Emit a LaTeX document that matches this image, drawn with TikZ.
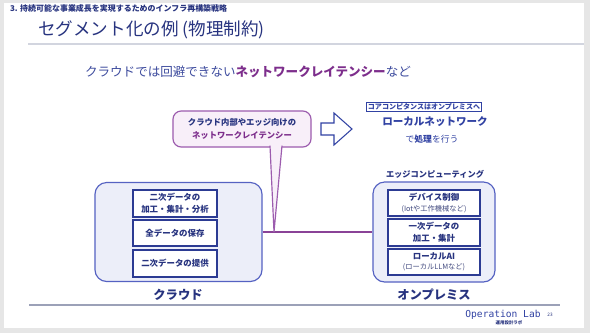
\documentclass[tikz,border=0pt]{standalone}
\usepackage{fontspec}
\setmainfont{Noto Sans CJK JP}
\newfontfamily\labmono{DejaVu Sans Mono}
\usetikzlibrary{positioning,calc}
\definecolor{SlideGray}{HTML}{E6E6E6}
\definecolor{LabNavy}{HTML}{27337F}
\definecolor{LabBlue}{HTML}{3142A3}
\definecolor{LabPurple}{HTML}{7D2E8C}
\definecolor{BoxBorder}{HTML}{5562C2}
\definecolor{BoxFill}{HTML}{ECEEF9}
\definecolor{CallFill}{HTML}{F8EFF9}
\definecolor{CallBorder}{HTML}{9C5CAE}
\definecolor{RuleGray}{HTML}{9CA1B8}

\begin{document}
\begin{tikzpicture}[
    x=0.03cm, y=-0.03cm,
    groupbox/.style={draw=BoxBorder, rounded corners=10pt, fill=BoxFill, line width=1pt},
    itembox/.style={draw=LabBlue!90!black, fill=white, line width=0.9pt, align=center, inner sep=1pt, text=LabNavy, font=\fontsize{7.2}{10}\selectfont\bfseries},
    grouplabel/.style={text=LabNavy, font=\fontsize{10.5}{12}\selectfont\bfseries},
    calloutbox/.style={draw=CallBorder, rounded corners=7pt, fill=CallFill, line width=1pt, align=center, text=LabNavy, font=\fontsize{7.1}{11}\selectfont\bfseries, minimum width=4.14cm, minimum height=1.08cm}
]

  % Fundo do slide
  \useasboundingbox (0,0) rectangle (590,333);
  \fill[SlideGray] (0,0) rectangle (590,333);
  \fill[white] (4,3) rectangle (584,328);

  \node[anchor=west, text=LabNavy, font=\fontsize{6.8}{8}\selectfont\bfseries] (hdr) at (6,8) {3. 持続可能な事業成長を実現するためのインフラ再構築戦略};
  \node[anchor=west, text=LabNavy, font=\fontsize{15}{18}\selectfont] (ttl) at (34,30) {セグメント化の例 (物理制約)};
  \draw[RuleGray!45, line width=1pt] (28,44) -- (584,44);

  \node[anchor=west, text=LabBlue!85!gray, font=\fontsize{10.7}{13}\selectfont] (lead) at (81,72) {クラウドでは回避できない\textbf{\color{LabPurple}ネットワークレイテンシー}など};

  % =========================================================================
  % CLOUD / ON-PREM
  % =========================================================================
  \node[groupbox, minimum width=5.01cm, minimum height=2.97cm] (cloud) at (178.5,232) {};
  \node[groupbox, minimum width=3.66cm, minimum height=3.0cm] (onprem) at (434,232) {};

  \node[itembox, minimum width=2.52cm, minimum height=0.81cm] (c_calc) at (175,203.5) {二次データの\\加工・集計・分析};
  \node[itembox, minimum width=2.52cm, minimum height=0.78cm] (c_store) at (175,233) {全データの保存};
  \node[itembox, minimum width=2.52cm, minimum height=0.81cm] (c_serve) at (175,263.5) {二次データの提供};
  \node[grouplabel] (cloud_lbl) at (178,295) {クラウド};

  \node[text=LabNavy, font=\fontsize{7}{8}\selectfont\bfseries] (edge_lbl) at (435,174) {エッジコンピューティング};
  \node[itembox, minimum width=2.76cm, minimum height=0.78cm] (o_ctrl) at (434,203) {デバイス制御\\[-1pt]{\mdseries\fontsize{6.2}{7}\selectfont\color{LabNavy!70!gray}(Iotや工作機械など)}};
  \node[itembox, minimum width=2.76cm, minimum height=0.81cm] (o_calc) at (434,232.5) {一次データの\\加工・集計};
  \node[itembox, minimum width=2.76cm, minimum height=0.78cm] (o_ai) at (434,262) {ローカルAI\\[-1pt]{\mdseries\fontsize{6.2}{7}\selectfont\color{LabNavy!70!gray}(ローカルLLMなど)}};
  \node[grouplabel] (onprem_lbl) at (434,295) {オンプレミス};

  \draw[LabPurple!90, line width=1.5pt] (cloud.east) -- (onprem.west);

  % =========================================================================
  % BALAO + SETA
  % =========================================================================
  \node[calloutbox] (bubble) at (242,129) {クラウド内部やエッジ向けの\\\color{LabPurple}ネットワークレイテンシー};
  \coordinate (tip) at (274,232);
  \filldraw[fill=CallFill, draw=CallBorder, line width=1pt] ($(bubble.south)+(28,-2)$) -- (tip) -- ($(bubble.south)+(40,-2)$);

  \draw[LabBlue, line width=0.9pt, fill=white] (321,123) -- (334,123) -- (334,113) -- (352,129) -- (334,145) -- (334,135) -- (321,135) -- cycle;

  \node[draw=LabBlue, line width=0.7pt, fill=white, inner sep=1pt, text=LabBlue, font=\fontsize{6}{7}\selectfont\bfseries] (core) at (424,107) {コアコンピタンスはオンプレミスへ};
  \node[text=LabBlue, font=\fontsize{9}{11}\selectfont\bfseries] (localnw) at (435,122) {ローカルネットワーク};
  \node[text=LabBlue, font=\fontsize{7.5}{9}\selectfont] (proc) at (432,139) {で\textbf{処理}を行う};

  % Rodape
  \draw[RuleGray, line width=1pt] (29,305) -- (560,305);
  \node[text=LabBlue, font=\labmono\fontsize{8.2}{9}\selectfont] (lab) at (503,315) {Operation Lab};
  \node[text=LabNavy, font=\fontsize{4}{5}\selectfont] (page) at (550,315) {23};
  \node[text=LabNavy, font=\fontsize{3.8}{4}\selectfont\bfseries] (lab_jp) at (509,322.5) {運用設計ラボ};

\end{tikzpicture}
\end{document}
